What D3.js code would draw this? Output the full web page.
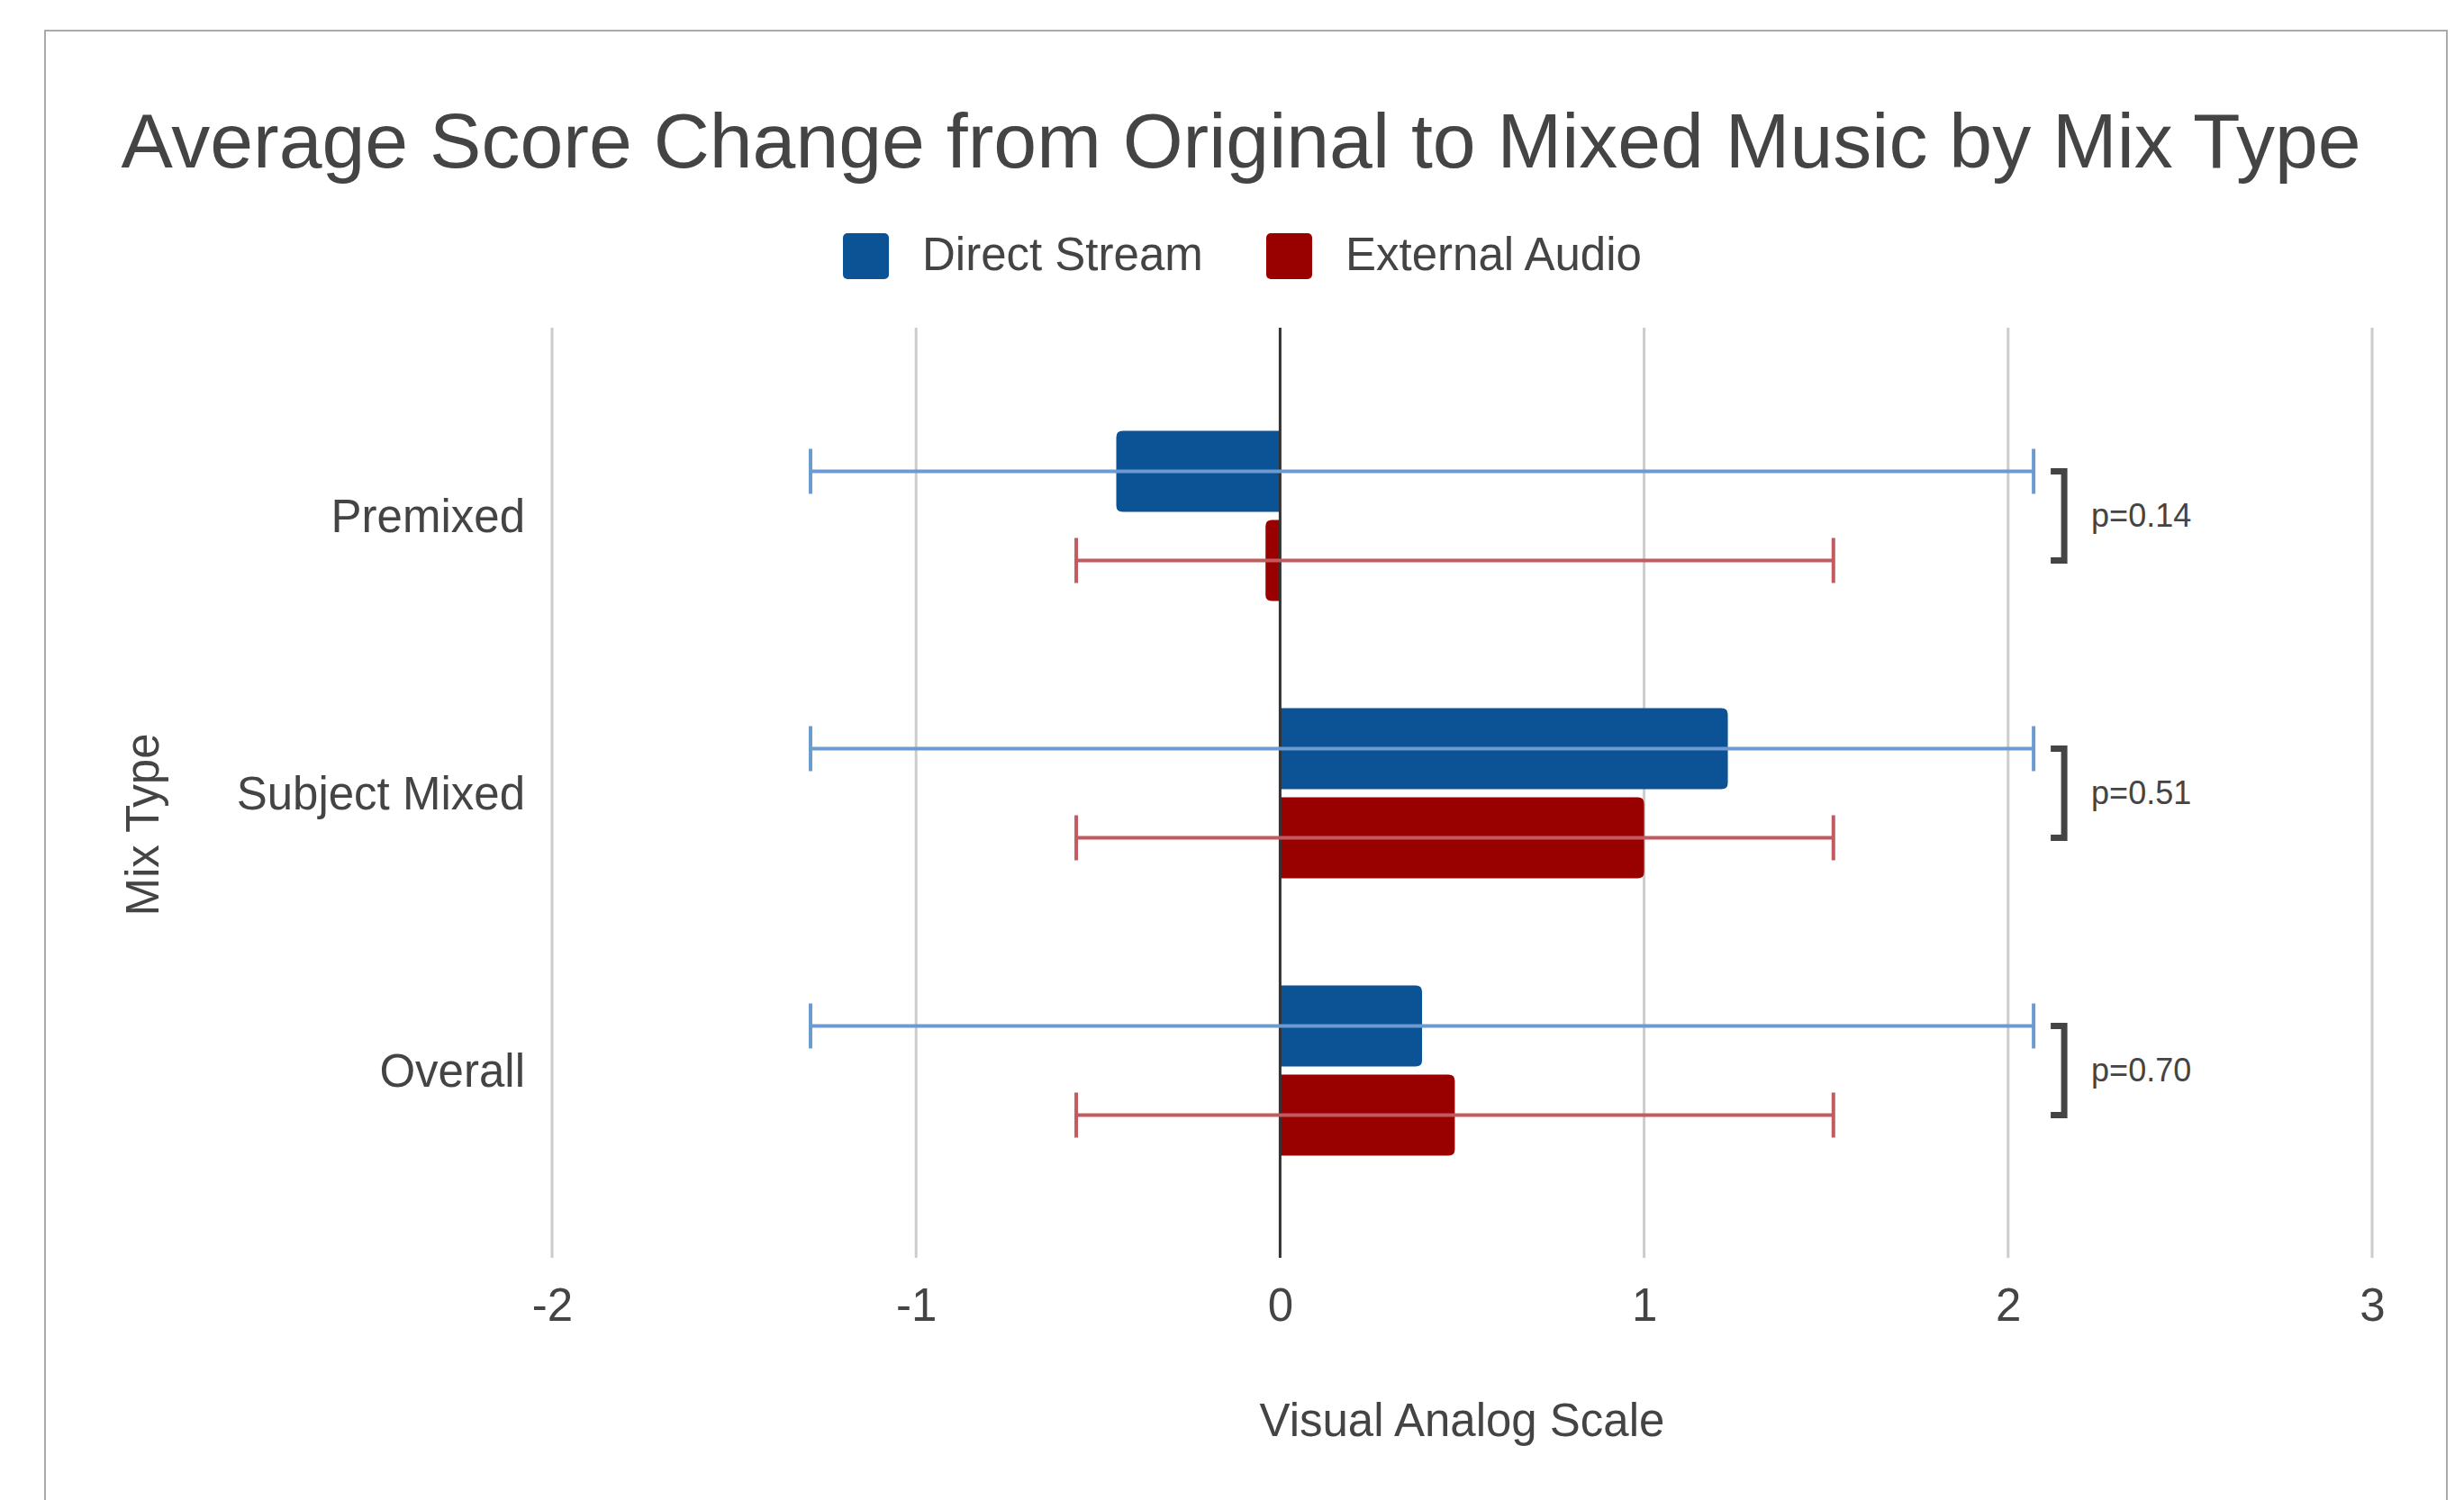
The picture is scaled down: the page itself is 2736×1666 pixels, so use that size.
<!DOCTYPE html>
<html>
<head>
<meta charset="utf-8">
<script src="https://cdn.jsdelivr.net/npm/d3@7"></script>
<style>
  html, body { margin: 0; padding: 0; background: #ffffff; }
  svg { display: block; font-family: "Liberation Sans", Arial, sans-serif; }
</style>
</head>
<body>
<svg id="chart" width="2736" height="1666"></svg>
<script>
// ---- data ----
const categories = ["Premixed", "Subject Mixed", "Overall"];
const seriesNames = ["Direct Stream", "External Audio"];
const directStream = [-0.45, 1.23, 0.39];
const externalAudio = [-0.04, 1.00, 0.48];
const directStreamErrLow = [-1.29, -1.29, -1.29];
const directStreamErrHigh = [2.07, 2.07, 2.07];
const externalAudioErrLow = [-0.56, -0.56, -0.56];
const externalAudioErrHigh = [1.52, 1.52, 1.52];
const pValues = ["p=0.14", "p=0.51", "p=0.70"];
const xTicks = [-2, -1, 0, 1, 2, 3];
const xTickLabels = ["-2", "-1", "0", "1", "2", "3"];
const titleText = "Average Score Change from Original to Mixed Music by Mix Type";
const xAxisTitle = "Visual Analog Scale";
const yAxisTitle = "Mix Type";

// ---- styles ----
const barColors = ["#0b5394", "#990000"];
const errColors = ["#6b9bd0", "#c25b5f"];
const textColor = "#444444";

const svg = d3.select("#chart");

// outer frame
svg.append("rect")
  .attr("x", 50).attr("y", 34)
  .attr("width", 2667).attr("height", 1700)
  .attr("fill", "#ffffff")
  .attr("stroke", "#aaaaaa").attr("stroke-width", 2);

const plotTop = 364, plotBottom = 1397;

const x = d3.scaleLinear().domain([-2, 3]).range([613, 2634]);
const y0 = d3.scaleBand().domain(categories).range([419, 1343]).paddingInner(0).paddingOuter(0);
const groupH = 189;
const y1 = d3.scaleBand().domain(seriesNames)
  .range([y0.bandwidth() / 2 - groupH / 2, y0.bandwidth() / 2 + groupH / 2])
  .paddingInner(0.0909).paddingOuter(0);

// gridlines
svg.append("g").selectAll("line")
  .data(xTicks.filter(t => t !== 0))
  .join("line")
  .attr("x1", d => x(d)).attr("x2", d => x(d))
  .attr("y1", plotTop).attr("y2", plotBottom)
  .attr("stroke", "#cccccc").attr("stroke-width", 3);

// x tick labels via axis
const xAxis = d3.axisBottom(x).tickValues(xTicks).tickSize(0).tickPadding(0)
  .tickFormat((d, i) => xTickLabels[i]);
const gx = svg.append("g").attr("transform", `translate(0, ${plotBottom})`).call(xAxis);
gx.select(".domain").remove();
gx.selectAll("text")
  .attr("dy", null).attr("y", 70)
  .attr("fill", textColor).style("font-size", "51px")
  .style("font-family", '"Liberation Sans", Arial, sans-serif');

// y category labels via axis
const yAxis = d3.axisLeft(y0).tickSize(0).tickPadding(0);
const gy = svg.append("g").attr("transform", "translate(583, 0)").call(yAxis);
gy.select(".domain").remove();
gy.selectAll("text")
  .attr("x", 0).attr("dy", "0.36em")
  .attr("fill", textColor).style("font-size", "51px")
  .style("font-family", '"Liberation Sans", Arial, sans-serif');

// data table
const series = [
  { name: seriesNames[0], values: directStream, lo: directStreamErrLow, hi: directStreamErrHigh, i: 0 },
  { name: seriesNames[1], values: externalAudio, lo: externalAudioErrLow, hi: externalAudioErrHigh, i: 1 }
];
const rows = [];
series.forEach(s => categories.forEach((c, ci) => {
  rows.push({ cat: c, ci, series: s.name, si: s.i, v: s.values[ci], lo: s.lo[ci], hi: s.hi[ci] });
}));

function barPath(d) {
  const y = y0(d.cat) + y1(d.series);
  const h = y1.bandwidth();
  const x0 = x(0), xv = x(d.v);
  const r = Math.min(7, Math.abs(xv - x0));
  if (xv >= x0) {
    return `M${x0},${y}H${xv - r}Q${xv},${y} ${xv},${y + r}V${y + h - r}Q${xv},${y + h} ${xv - r},${y + h}H${x0}Z`;
  } else {
    return `M${x0},${y}H${xv + r}Q${xv},${y} ${xv},${y + r}V${y + h - r}Q${xv},${y + h} ${xv + r},${y + h}H${x0}Z`;
  }
}

svg.append("g").selectAll("path")
  .data(rows).join("path")
  .attr("d", barPath)
  .attr("fill", d => barColors[d.si]);

// zero line
svg.append("line")
  .attr("x1", x(0)).attr("x2", x(0))
  .attr("y1", plotTop).attr("y2", plotBottom)
  .attr("stroke", "#333333").attr("stroke-width", 3);

// error bars
const eg = svg.append("g").selectAll("g").data(rows).join("g")
  .attr("stroke", d => errColors[d.si]).attr("stroke-width", 4);
const cy = d => y0(d.cat) + y1(d.series) + y1.bandwidth() / 2;
eg.append("line")
  .attr("x1", d => x(d.lo)).attr("x2", d => x(d.hi))
  .attr("y1", cy).attr("y2", cy);
eg.append("line")
  .attr("x1", d => x(d.lo)).attr("x2", d => x(d.lo))
  .attr("y1", d => cy(d) - 25).attr("y2", d => cy(d) + 25);
eg.append("line")
  .attr("x1", d => x(d.hi)).attr("x2", d => x(d.hi))
  .attr("y1", d => cy(d) - 25).attr("y2", d => cy(d) + 25);

// significance brackets
const bx = x(d3.max(directStreamErrHigh));
const brG = svg.append("g").selectAll("g").data(categories).join("g");
brG.append("path")
  .attr("d", (c) => {
    const ya = y0(c) + y1(seriesNames[0]) + y1.bandwidth() / 2;
    const yb = y0(c) + y1(seriesNames[1]) + y1.bandwidth() / 2;
    return `M${bx + 19},${ya}H${bx + 34}V${yb}H${bx + 19}`;
  })
  .attr("fill", "none").attr("stroke", textColor).attr("stroke-width", 7)
  .attr("stroke-linejoin", "miter");
brG.append("text")
  .attr("x", bx + 64)
  .attr("y", c => y0(c) + y0.bandwidth() / 2 + 12)
  .attr("fill", textColor).style("font-size", "36px")
  .text((c, i) => pValues[i]);

// title
svg.append("text")
  .attr("x", 1378).attr("y", 186)
  .attr("text-anchor", "middle")
  .attr("fill", textColor).style("font-size", "86px")
  .text(titleText);

// legend
const legendItems = [
  { name: seriesNames[0], sx: 936, tx: 1024 },
  { name: seriesNames[1], sx: 1406, tx: 1494 }
];
const lg = svg.append("g").selectAll("g").data(legendItems).join("g");
lg.append("rect")
  .attr("x", d => d.sx).attr("y", 259)
  .attr("width", 51).attr("height", 51).attr("rx", 5)
  .attr("fill", (d, i) => barColors[i]);
lg.append("text")
  .attr("x", d => d.tx).attr("y", 300)
  .attr("fill", textColor).style("font-size", "51px")
  .text(d => d.name);

// axis titles
svg.append("text")
  .attr("x", (x(-2) + x(3)) / 2).attr("y", 1595)
  .attr("text-anchor", "middle")
  .attr("fill", textColor).style("font-size", "51px")
  .text(xAxisTitle);
svg.append("text")
  .attr("transform", "translate(176, 916) rotate(-90)")
  .attr("text-anchor", "middle")
  .attr("fill", textColor).style("font-size", "51px")
  .text(yAxisTitle);
</script>
</body>
</html>
